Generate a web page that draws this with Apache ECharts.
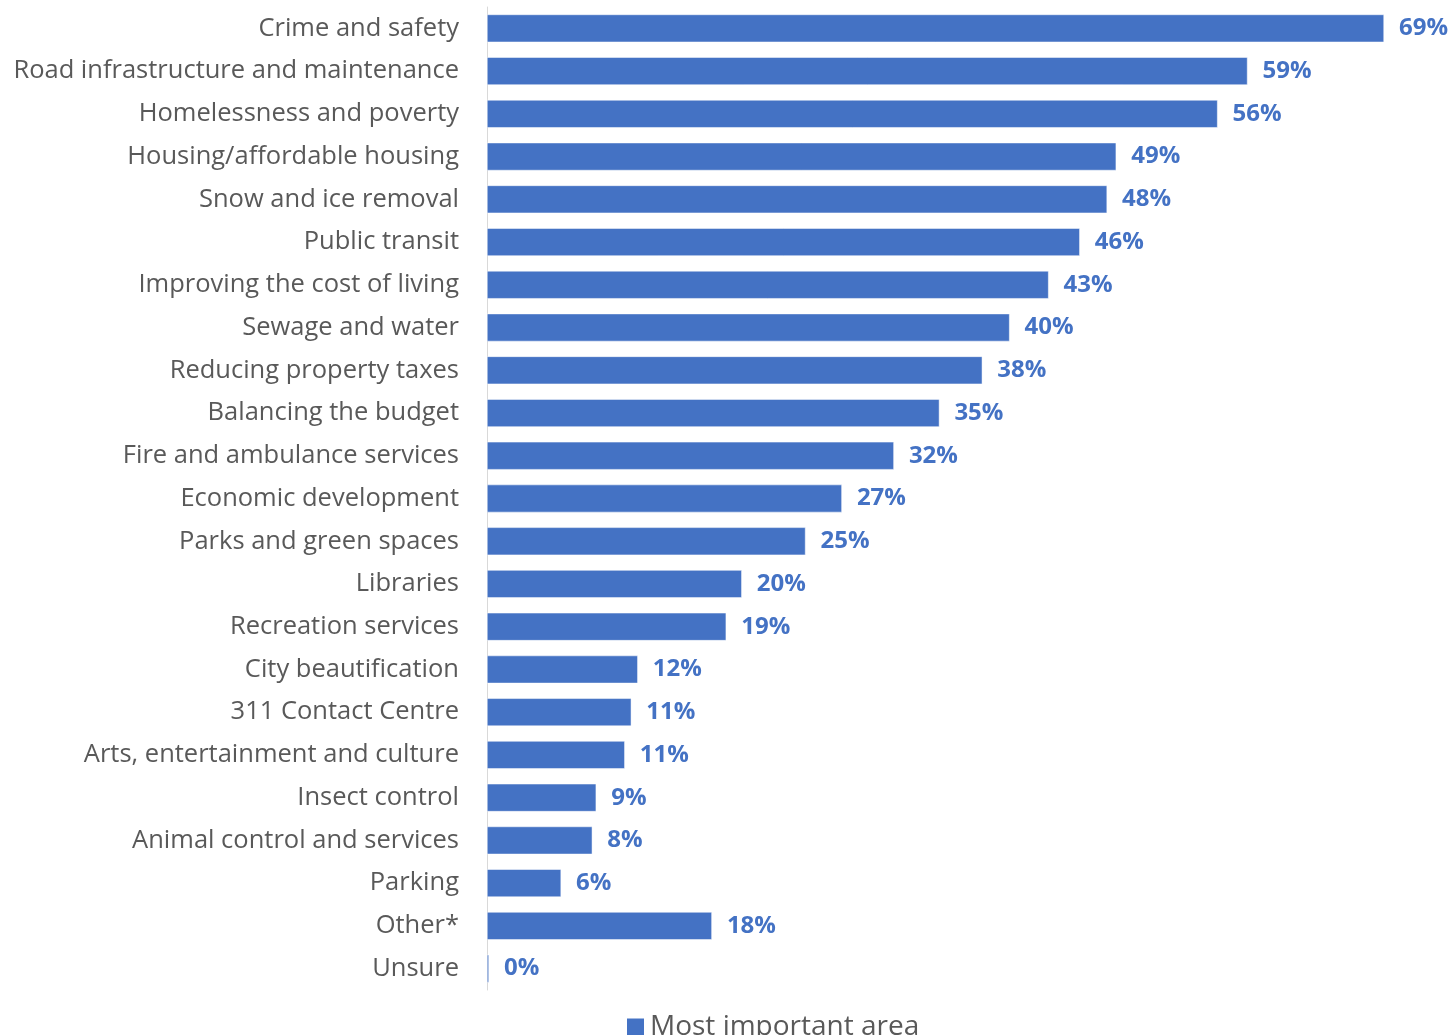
<!DOCTYPE html>
<html>
<head>
<meta charset="utf-8">
<script src="https://cdn.jsdelivr.net/npm/echarts@6/dist/echarts.min.js"></script>
<style>
  html, body { margin: 0; padding: 0; background: #fff; }
  #root { width: 1450px; height: 1035px; }
</style>
</head>
<body>
<div id="root"></div>
<script>
// 类目（从上到下）
var categories = [
  'Crime and safety', 'Road infrastructure and maintenance', 'Homelessness and poverty',
  'Housing/affordable housing', 'Snow and ice removal', 'Public transit',
  'Improving the cost of living', 'Sewage and water', 'Reducing property taxes',
  'Balancing the budget', 'Fire and ambulance services', 'Economic development',
  'Parks and green spaces', 'Libraries', 'Recreation services', 'City beautification',
  '311 Contact Centre', 'Arts, entertainment and culture', 'Insect control',
  'Animal control and services', 'Parking', 'Other*', 'Unsure'
];
// 条形长度（按图估计）
var values = [69.0, 58.5, 56.2, 48.4, 47.7, 45.6, 43.2, 40.2, 38.1, 34.8, 31.3, 27.3,
  24.5, 19.6, 18.4, 11.6, 11.1, 10.6, 8.4, 8.1, 5.7, 17.3, 0.15];
// 标签文字
var labels = ['69%', '59%', '56%', '49%', '48%', '46%', '43%', '40%', '38%', '35%', '32%', '27%',
  '25%', '20%', '19%', '12%', '11%', '11%', '9%', '8%', '6%', '18%', '0%'];

var myChart = echarts.init(document.getElementById('root'));
myChart.setOption({
  animation: false,
  textStyle: { fontFamily: 'Open Sans' },
  grid: { left: 487, right: 27, top: 7, bottom: 45 },
  legend: {
    left: 620, top: 1008,
    itemWidth: 19, itemHeight: 19, itemGap: 10,
    icon: 'rect',
    textStyle: { fontSize: 28, color: '#595959', fontFamily: 'Open Sans' },
    data: ['Most important area']
  },
  xAxis: { type: 'value', min: 0, max: 72, show: false },
  yAxis: {
    type: 'category',
    inverse: true,
    data: categories,
    axisLine: { lineStyle: { color: '#d9d9d9', width: 1 } },
    axisTick: { show: false },
    axisLabel: { fontSize: 25.5, color: '#595959', margin: 28, fontFamily: 'Open Sans' }
  },
  series: [{
    name: 'Most important area',
    type: 'bar',
    data: values,
    barCategoryGap: '35%',
    itemStyle: { color: '#4472C4', borderColor: '#ffffff', borderWidth: 0.5 },
    label: {
      show: true,
      position: 'right',
      distance: 15,
      fontSize: 24,
      fontWeight: 'bold',
      color: '#4472C4',
      fontFamily: 'Open Sans',
      formatter: function (p) { return labels[p.dataIndex]; }
    }
  }]
});
</script>
</body>
</html>
